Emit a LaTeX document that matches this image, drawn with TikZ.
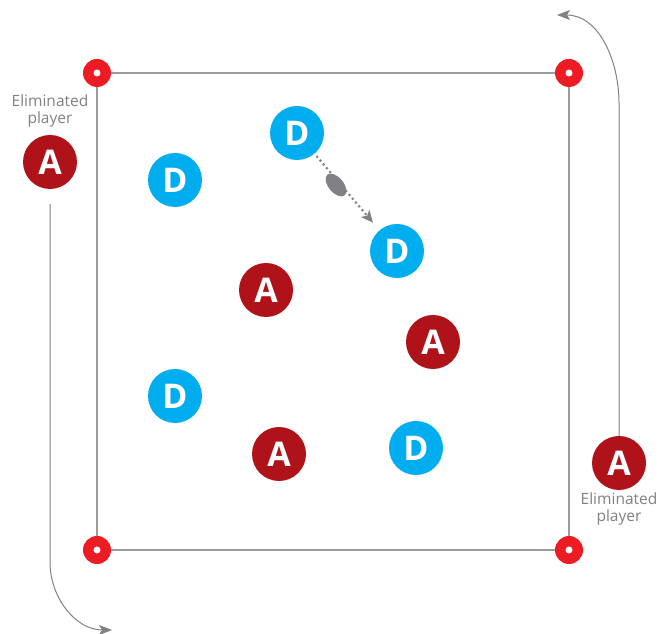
\documentclass[tikz,border=0pt]{standalone}
\usepackage{fontspec}
\setmainfont{Open Sans}
\usepackage{xcolor}
\definecolor{dblue}{RGB}{0,174,239}
\definecolor{ared}{RGB}{175,18,24}
\definecolor{cred}{RGB}{237,28,36}
\definecolor{lgray}{RGB}{155,155,155}
\definecolor{mgray}{RGB}{128,129,133}
\usepackage{tikz}
\usetikzlibrary{arrows.meta,shapes,positioning}

\begin{document}
\begin{tikzpicture}[
  x=1pt,y=1pt,
  cone/.style={circle,fill=cred,minimum size=28pt,inner sep=0pt,
    path picture={\fill[white] (path picture bounding box.center) circle (3.5pt);}},
  player/.style={circle,minimum size=54pt,inner sep=0pt,text=white,
    font=\bfseries\fontsize{34}{34}\selectfont},
  dnode/.style={player,fill=dblue},
  anode/.style={player,fill=ared},
  note/.style={align=center,text=mgray,font=\fontsize{15.5}{17.5}\selectfont,inner sep=1pt},
  side/.style={draw=lgray,line width=1.4pt},
  move/.style={draw=mgray,line width=1pt,-{Stealth[length=13pt,width=10pt,inset=3pt]}},
  pass/.style={draw=mgray,line width=2.2pt,dash pattern=on 2pt off 3pt,
    -{Stealth[length=12pt,width=11pt,inset=3pt]},shorten <=3pt,shorten >=10pt}
]
  \useasboundingbox (0,0) rectangle (661,634);

  % Cones
  \node[cone] (c1) at (97,561) {};
  \node[cone] (c2) at (569,561) {};
  \node[cone] (c3) at (97,84) {};
  \node[cone] (c4) at (569,84) {};
  \draw[side] (c1) -- (c2) -- (c4) -- (c3) -- (c1);

  % Defenders
  \node[dnode] (d1) at (297,501) {D};
  \node[dnode] (d2) at (175,454) {D};
  \node[dnode] (d3) at (397,383) {D};
  \node[dnode] (d4) at (175,238) {D};
  \node[dnode] (d5) at (416,186) {D};

  % Attackers
  \node[anode] (a1) at (266,344) {A};
  \node[anode] (a2) at (433,292) {A};
  \node[anode] (a3) at (279,180) {A};

  % Eliminated players
  \node[anode] (a0) at (50,472) {A};
  \node[anode] (a5) at (619,171) {A};
  \node[note,above=6pt of a0] (n0) {Eliminated\\player};
  \node[note,below=1pt of a5] (n5) {Eliminated\\player};

  % Pass
  \draw[pass] (d1) -- (d3);
  \node[ellipse,fill=mgray,minimum width=15pt,minimum height=27pt,inner sep=0pt,rotate=40] (ball) at (336,449) {};

  % Leaving the square
  \coordinate (exit0) at (112,4);
  \coordinate (exit5) at (557,619);
  \draw[move,shorten <=15pt] (a0) -- ++(0,-400) to[out=-90,in=180] (exit0);
  \draw[move] (a5) -- ++(0,360) to[out=90,in=0] (exit5);
\end{tikzpicture}
\end{document}
